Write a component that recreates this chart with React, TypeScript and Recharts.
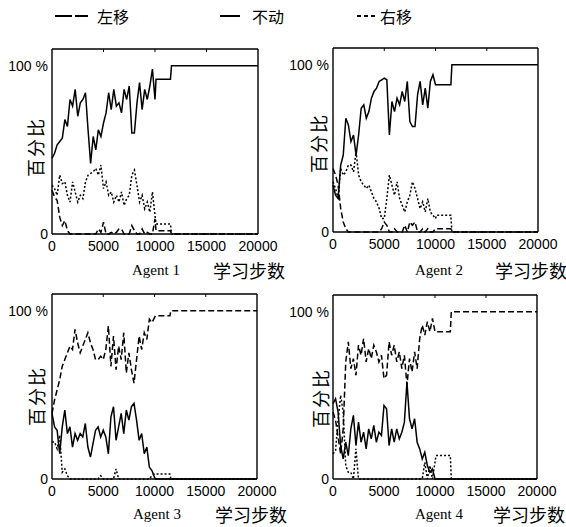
import { Line, LineChart, XAxis, YAxis } from "recharts";

// learning steps (x)
const STEPS = [
  0, 250, 500, 750, 1000, 1250, 1500, 1750, 2000, 2250, 2500, 2750, 3000, 3250,
  3500, 3750, 4000, 4250, 4500, 4750, 5000, 5250, 5500, 5750, 6000, 6250, 6500,
  6750, 7000, 7250, 7500, 7750, 8000, 8250, 8500, 8750, 9000, 9250, 9500, 9750,
  10000, 10100, 11500, 11600, 20000,
];

const X_TICKS = [0, 5000, 10000, 15000, 20000];
const Y_TICKS = [0, 100];
const Y_MINOR = [0, 20, 40, 60, 80, 100];

// Agent 1
const A1_LEFT = [26, 22, 20, 10, 5, 8, 2, 0, 0, 0, 0, 0, 0, 0, 0, 0, 0, 0, 3, 1, 7, 0, 0, 1, 0, 1, 3, 3, 0, 0, 0, 5, 2, 0, 0, 3, 0, 1, 0, 0, 9, 2, 2, 0, 0];
const A1_STAY = [45, 48, 53, 55, 57, 68, 64, 80, 76, 86, 70, 78, 80, 84, 62, 42, 58, 50, 62, 58, 66, 72, 84, 74, 86, 76, 78, 72, 86, 80, 88, 60, 60, 78, 90, 74, 86, 80, 88, 98, 80, 92, 92, 100, 100];
const A1_RIGHT = [29, 27, 23, 35, 30, 31, 23, 19, 31, 25, 19, 23, 21, 31, 35, 36, 37, 39, 35, 41, 27, 31, 23, 25, 19, 23, 19, 25, 17, 21, 23, 35, 38, 29, 19, 23, 15, 19, 13, 25, 11, 6, 6, 0, 0];

// Agent 2
const A2_LEFT = [38, 34, 28, 14, 6, 2, 0, 0, 0, 0, 0, 0, 0, 0, 0, 0, 0, 0, 0, 2, 6, 4, 0, 0, 2, 0, 0, 0, 4, 0, 6, 4, 6, 0, 0, 2, 0, 2, 0, 0, 2, 2, 2, 0, 0];
const A2_STAY = [28, 22, 20, 40, 46, 68, 64, 54, 58, 46, 58, 74, 76, 68, 72, 80, 84, 86, 90, 91, 92, 91, 58, 78, 72, 80, 76, 84, 78, 90, 66, 63, 63, 82, 90, 76, 86, 74, 90, 94, 88, 88, 88, 100, 100];
const A2_RIGHT = [30, 26, 20, 38, 34, 36, 40, 40, 36, 48, 34, 30, 28, 26, 28, 24, 20, 18, 14, 8, 8, 20, 34, 28, 22, 30, 20, 16, 12, 18, 22, 30, 26, 20, 14, 18, 12, 20, 12, 10, 8, 10, 10, 0, 0];

// Agent 3
const A3_LEFT = [39, 47, 53, 59, 67, 71, 75, 79, 77, 89, 81, 75, 79, 83, 87, 81, 77, 71, 71, 73, 71, 77, 91, 67, 85, 65, 79, 71, 87, 63, 75, 65, 57, 71, 85, 77, 87, 83, 95, 93, 96, 97, 97, 100, 100];
const A3_STAY = [39, 31, 29, 15, 31, 41, 27, 31, 19, 27, 23, 27, 25, 33, 19, 13, 21, 29, 31, 25, 29, 25, 15, 37, 43, 23, 31, 39, 27, 41, 35, 43, 45, 35, 23, 27, 15, 19, 7, 5, 1, 0, 0, 0, 0];
const A3_RIGHT = [22, 22, 18, 26, 4, 6, 2, 0, 0, 0, 0, 0, 0, 0, 0, 0, 0, 0, 0, 2, 0, 0, 0, 0, 0, 6, 0, 0, 0, 0, 0, 0, 0, 0, 0, 0, 0, 0, 0, 2, 3, 3, 3, 0, 0];

// Agent 4
const A4_LEFT = [40, 35, 25, 15, 30, 70, 82, 66, 72, 62, 80, 74, 84, 70, 78, 72, 80, 76, 70, 74, 60, 62, 82, 74, 80, 70, 76, 66, 74, 56, 72, 64, 76, 66, 84, 92, 86, 94, 88, 96, 88, 88, 88, 100, 100];
const A4_STAY = [45, 48, 40, 20, 12, 22, 14, 30, 38, 20, 34, 22, 28, 18, 30, 24, 32, 22, 28, 26, 44, 42, 20, 30, 22, 30, 24, 28, 34, 58, 36, 30, 36, 22, 18, 12, 16, 8, 4, 6, 0, 0, 0, 0, 0];
const A4_RIGHT = [15, 17, 35, 50, 40, 8, 4, 4, 0, 18, 0, 0, 0, 0, 0, 0, 0, 0, 0, 0, 0, 0, 0, 0, 0, 0, 0, 0, 0, 0, 0, 0, 0, 0, 0, 0, 10, 0, 8, 0, 10, 14, 14, 0, 0];

const NUM_FONT = "'Liberation Sans', Arial, sans-serif";
const CJK_FONT = "'Noto Sans CJK SC', sans-serif";
const SERIF = "'Liberation Serif', 'Times New Roman', serif";

const tickStyle = { fontSize: 14, fill: "#000", fontFamily: NUM_FONT };
const axisLine = { stroke: "#000", strokeWidth: 1.4 };

function Panel({ px, py, pw, ph, left, stay, right }) {
  const rows = STEPS.map((x, i) => ({ x, left: left[i], stay: stay[i], right: right[i] }));
  return (
    <div style={{ position: "absolute", left: px - 52, top: py - 10 }}>
      <LineChart
        width={pw + 76}
        height={ph + 40}
        data={rows}
        margin={{ top: 10, right: 24, bottom: 0, left: 0 }}
      >
        <XAxis
          xAxisId="b"
          dataKey="x"
          type="number"
          domain={[0, 20000]}
          ticks={X_TICKS}
          tickLine={false}
          tickSize={0}
          tickMargin={7}
          height={30}
          axisLine={axisLine}
          tick={tickStyle}
        />
        <XAxis
          xAxisId="t"
          dataKey="x"
          type="number"
          orientation="top"
          mirror
          domain={[0, 20000]}
          ticks={[5000, 10000, 15000]}
          tickSize={3}
          tickFormatter={() => ""}
          axisLine={axisLine}
          tickLine={{ stroke: "#000" }}
        />
        <YAxis
          yAxisId="l"
          type="number"
          domain={[0, 110]}
          ticks={Y_TICKS}
          width={52}
          tickLine={false}
          tickSize={0}
          tickMargin={4}
          axisLine={axisLine}
          tick={tickStyle}
          tickFormatter={(v) => (v === 100 ? "100 %" : "0")}
        />
        <YAxis
          yAxisId="r"
          type="number"
          orientation="right"
          mirror
          domain={[0, 110]}
          ticks={Y_MINOR}
          tickSize={3}
          tickFormatter={() => ""}
          axisLine={axisLine}
          tickLine={{ stroke: "#000" }}
        />
        <Line xAxisId="b" yAxisId="l" dataKey="left" type="linear" stroke="#000" strokeWidth={1.5} strokeDasharray="6 3" dot={false} isAnimationActive={false} />
        <Line xAxisId="b" yAxisId="l" dataKey="stay" type="linear" stroke="#000" strokeWidth={1.5} dot={false} isAnimationActive={false} />
        <Line xAxisId="b" yAxisId="l" dataKey="right" type="linear" stroke="#000" strokeWidth={1.5} strokeDasharray="2 2" dot={false} isAnimationActive={false} />
      </LineChart>
    </div>
  );
}

function Txt({ x, y, size, font, children }) {
  return (
    <div
      style={{
        position: "absolute",
        left: x,
        top: y,
        transform: "translateY(-50%)",
        fontSize: size,
        fontFamily: font,
        lineHeight: 1,
        whiteSpace: "nowrap",
        color: "#000",
      }}
    >
      {children}
    </div>
  );
}

function YLabel({ x, y }) {
  return (
    <div
      style={{
        position: "absolute",
        left: x,
        top: y,
        transform: "translate(-50%, -50%) rotate(-90deg)",
        fontSize: 18,
        fontFamily: CJK_FONT,
        letterSpacing: 2,
        lineHeight: 1,
        whiteSpace: "nowrap",
      }}
    >
      百分比
    </div>
  );
}

export default function App() {
  return (
    <div style={{ position: "absolute", left: 0, top: 0, width: 566, height: 527, background: "#fff" }}>
      {/* legend */}
      <svg style={{ position: "absolute", left: 0, top: 0 }} width={566} height={30}>
        <line x1={55} y1={16} x2={72} y2={16} stroke="#000" strokeWidth={2} />
        <line x1={75} y1={16} x2={88} y2={16} stroke="#000" strokeWidth={2} />
        <line x1={220} y1={16} x2={240} y2={16} stroke="#000" strokeWidth={2} />
        <line x1={357} y1={16} x2={377} y2={16} stroke="#000" strokeWidth={2} strokeDasharray="4 3" />
      </svg>
      <Txt x={97} y={16} size={16} font={CJK_FONT}>左移</Txt>
      <Txt x={252} y={16} size={16} font={CJK_FONT}>不动</Txt>
      <Txt x={380} y={16} size={16} font={CJK_FONT}>右移</Txt>

      <Panel px={52} py={49} pw={206} ph={185} left={A1_LEFT} stay={A1_STAY} right={A1_RIGHT} />
      <Panel px={333} py={48} pw={205} ph={184} left={A2_LEFT} stay={A2_STAY} right={A2_RIGHT} />
      <Panel px={52} py={294} pw={205} ph={185} left={A3_LEFT} stay={A3_STAY} right={A3_RIGHT} />
      <Panel px={333} py={295} pw={204} ph={184} left={A4_LEFT} stay={A4_STAY} right={A4_RIGHT} />

      <YLabel x={35} y={147} />
      <YLabel x={318} y={143} />
      <YLabel x={36} y={396} />
      <YLabel x={320} y={398} />

      <Txt x={132} y={270} size={15} font={SERIF}>Agent 1</Txt>
      <Txt x={213} y={270} size={18} font={CJK_FONT}>学习步数</Txt>
      <Txt x={415} y={270} size={15} font={SERIF}>Agent 2</Txt>
      <Txt x={495} y={270} size={18} font={CJK_FONT}>学习步数</Txt>
      <Txt x={133} y={514} size={15} font={SERIF}>Agent 3</Txt>
      <Txt x={215} y={514} size={18} font={CJK_FONT}>学习步数</Txt>
      <Txt x={415} y={514} size={15} font={SERIF}>Agent 4</Txt>
      <Txt x={493} y={514} size={18} font={CJK_FONT}>学习步数</Txt>
    </div>
  );
}
